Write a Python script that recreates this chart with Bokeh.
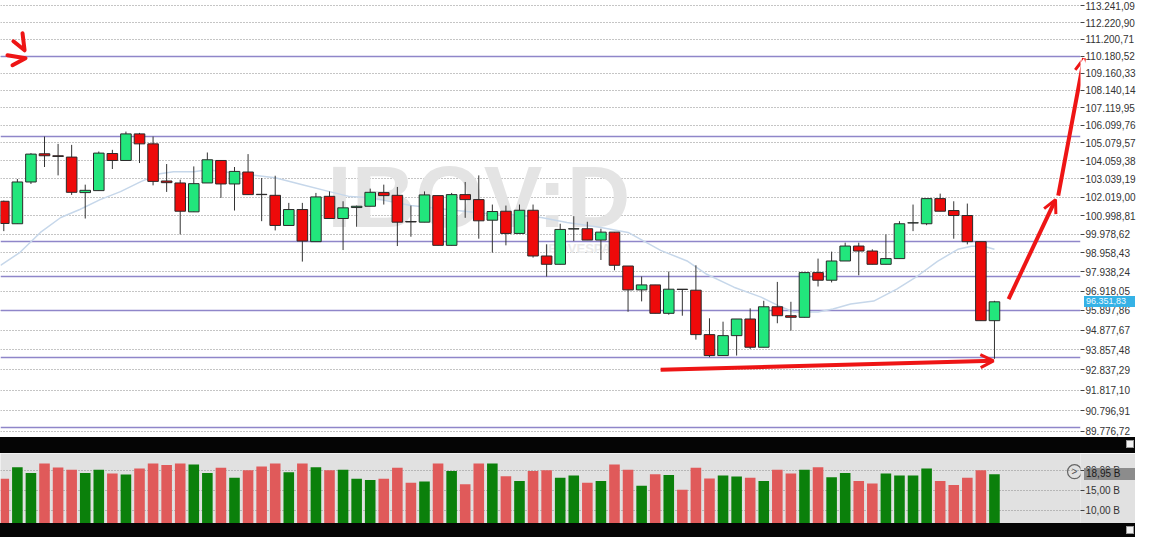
import math
from bokeh.plotting import figure
from bokeh.models import Range1d, FixedTicker, Arrow, OpenHead, Label, Div, ColumnDataSource
from bokeh.layouts import column
from bokeh.core.properties import value
from bokeh.embed import file_html
from bokeh.resources import INLINE

# ---------------- data ----------------
PRICE_TICK_LABELS = ["89.776,72", "90.796,91", "91.817,10", "92.837,29", "93.857,48", "94.877,67",
                     "95.897,86", "96.918,05", "97.938,24", "98.958,43", "99.978,62", "100.998,81",
                     "102.019,00", "103.039,19", "104.059,38", "105.079,57", "106.099,76", "107.119,95",
                     "108.140,14", "109.160,33", "110.180,52", "111.200,71", "112.220,90", "113.241,09"]
VOLUME_TICK_LABELS = ["10,00 B", "15,00 B", "20,00 B"]

OPEN = [101788, 100546, 102866, 104462, 104349, 104274, 102271, 102382, 104478, 104081,
        105603, 105029, 102922, 102811, 101203, 102811, 104081, 102755, 103428, 102175,
        102120, 100453, 101330, 99568, 102064, 100835, 101440, 101512, 102271, 102120,
        100671, 100633, 102104, 99368, 102159, 101881, 100742, 101237, 100017, 101291,
        98792, 98346, 100262, 100273, 99655, 100088, 98254, 96981, 97245, 95748,
        97018, 96965, 94641, 93565, 94589, 95452, 93991, 96091, 95623, 95540,
        97901, 97494, 98523, 99331, 99061, 98346, 98652, 100590, 100546, 101936,
        101275, 100999, 99568, 95364]
HIGH = [101826, 103034, 104501, 105448, 105029, 104972, 102716, 104592, 104688, 105735,
        105660, 105448, 103879, 102995, 103744, 104535, 104081, 103710, 104444, 103088,
        103218, 101699, 101699, 102254, 102337, 101788, 101551, 102493, 102716, 102588,
        101551, 102337, 102104, 102254, 102866, 103236, 101606, 101550, 101606, 101606,
        99422, 100546, 100961, 100655, 100273, 100088, 98254, 97690, 97245, 97954,
        97018, 98292, 95489, 95312, 95452, 96008, 96405, 97404, 96353, 97901,
        98652, 99028, 99514, 99514, 99152, 99962, 100688, 101606, 101936, 102215,
        101788, 101661, 99568, 96405]
LOW = [100142, 100546, 102755, 103710, 103236, 102142, 100835, 102382, 103597, 104081,
       103935, 102677, 102310, 99962, 101203, 102811, 101975, 101275, 102159, 100688,
       100180, 100453, 98491, 99568, 100835, 99115, 100382, 101512, 101606, 99331,
       99838, 100633, 99368, 99368, 100873, 99730, 98974, 99368, 100017, 98706,
       97690, 98346, 99601, 99655, 98577, 98024, 95831, 96374, 95748, 95675,
       95623, 94384, 93484, 93565, 93565, 93904, 93991, 95230, 94847, 95540,
       97161, 97377, 98523, 97758, 98346, 98346, 98652, 100142, 100469, 101237,
       99730, 99422, 95364, 93398]
CLOSE = [100562, 102866, 104444, 104349, 104308, 102287, 102399, 104501, 104081, 105603,
         105029, 102900, 102828, 101237, 102772, 104121, 102755, 103461, 102159, 102159,
         100453, 101330, 99601, 102031, 100835, 101424, 101512, 102287, 102104, 100633,
         100644, 102142, 99368, 102159, 101881, 100709, 101220, 100017, 101291, 98792,
         98346, 100235, 100273, 99655, 100088, 98292, 96981, 97245, 95748, 97018,
         97002, 94641, 93565, 94589, 95452, 93991, 96091, 95623, 95540, 97901,
         97494, 98523, 99331, 99061, 98346, 98652, 100546, 100600, 101936, 101237,
         100999, 99568, 95364, 96351.83]
VOLUME_B = [17.86, 20.71, 19.29, 21.6, 20.64, 20.07, 19.29, 20.07, 19.12, 18.88,
            20.40, 21.6, 21.26, 21.6, 21.36, 19.29, 20.55, 18.10, 19.93, 20.88,
            21.6, 19.45, 21.6, 20.71, 19.93, 20.07, 17.86, 17.55, 17.86, 20.55,
            16.90, 17.21, 21.6, 19.76, 16.50, 21.6, 21.6, 18.5, 17.31, 19.76,
            19.93, 18.10, 18.64, 16.90, 17.31, 21.36, 20.07, 16.12, 18.98, 18.81,
            15.17, 20.55, 17.93, 18.64, 18.40, 18.10, 17.31, 20.07, 19.12, 20.07,
            20.71, 18.26, 19.29, 17.31, 16.67, 19.12, 18.64, 18.64, 20.40, 17.31,
            16.36, 18.10, 19.93, 18.95]
MA_IDX = [-0.24, 1.2, 2.7, 4.2, 5.6, 7.1, 8.6, 10.1, 11.5, 12.5, 14, 15, 17.4, 20, 22, 24,
          25.5, 27, 30, 33.4, 35.5, 37.3, 39.6, 41.5, 44, 46, 48.4, 50.4, 51.8, 53.8, 55.8,
          57, 58.2, 60, 61.1, 62.4, 64.1, 65.8, 67.3, 68.8, 70.3, 71.3, 72.2, 73]
MA_VAL = [98292, 98990, 100071, 100890, 101330, 101881, 102326, 102883, 103332, 103445,
          103445, 103557, 103332, 103106, 102716, 102326, 102048, 101991, 101551, 101275,
          101110, 101055, 100890, 100617, 100344, 100071, 99098, 98507, 97811, 97124,
          96599, 96180, 95815, 95815, 95971, 96233, 96390, 97018, 97705, 98507, 99152,
          99314, 99314, 99152]
SUPPORT_LEVELS = [110180.52, 105448, 99568, 97690, 95882, 93474, 89960]
LAST_PRICE_LABEL = "96.351,83"
LAST_VOLUME_LABEL = "18,95 B"

# hand-drawn annotations (candle index, price)
ARROW_UP_1 = [(74.04, 96494), (77.5, 101881)]
ARROW_UP_2 = [(77.7, 102103), (79.6, 110056)]
ARROW_FLAT = [(48.4, 92840), (72.93, 93297)]
CHEVRON_XS = [[0.71, 1.53, 1.38], [0.27, 1.6, 0.64]]
CHEVRON_YS = [[111077, 110535, 111561], [110235, 110056, 109638]]


def br(s):
    return float(s.replace(" B", "").replace(".", "").replace(",", "."))


PRICE_TICKS = [br(s) for s in PRICE_TICK_LABELS]
VOLUME_TICKS = [br(s) for s in VOLUME_TICK_LABELS]

RED = "#ee0a0a"
GREEN = "#22e67c"
ARROW_RED = "#ee1515"
PURPLE = "#8f86c9"
FONT = "Liberation Sans"

idx = list(range(len(OPEN)))
up = [c >= o for o, c in zip(OPEN, CLOSE)]
src = ColumnDataSource(dict(
    x=idx, high=HIGH, low=LOW,
    top=[max(o, c) for o, c in zip(OPEN, CLOSE)],
    bottom=[min(o, c) for o, c in zip(OPEN, CLOSE)],
    color=[GREEN if u else RED for u in up],
    vol=VOLUME_B,
    vcolor=["#0b800b" if u else "#e05a5a" for u in up],
))

FW = 1080
RB = 55
MAIN_H = 437
VOL_H = 70
BAND1_H = 16
BAND2_H = 14
PRICE_RANGE = (89472, 113580)
VOL_RANGE = (6.9, 24.05)
x_range = Range1d(-0.243, 79.34)


def style_axis(ax):
    ax.axis_line_color = None
    ax.minor_tick_line_color = None
    ax.major_tick_in = 0
    ax.major_tick_out = 4
    ax.major_tick_line_color = "#444"
    ax.major_label_standoff = 1
    ax.major_label_text_font = FONT
    ax.major_label_text_font_size = "10px"
    ax.major_label_text_color = "#333"


# ---------------- price panel ----------------
p = figure(frame_width=FW, frame_height=MAIN_H, x_range=x_range,
           y_range=Range1d(*PRICE_RANGE), y_axis_type="log", y_axis_location="right",
           x_axis_location=None, output_backend="svg", toolbar_location=None,
           min_border_left=0, min_border_top=0, min_border_bottom=0, min_border_right=RB,
           background_fill_color="white", border_fill_color="white", outline_line_color=None)

ticker = FixedTicker(ticks=PRICE_TICKS)
p.yaxis.ticker = ticker
p.yaxis.major_label_overrides = {t: s for t, s in zip(PRICE_TICKS, PRICE_TICK_LABELS)}
style_axis(p.yaxis[0])
p.xgrid.visible = False
p.ygrid.ticker = ticker
p.ygrid.grid_line_color = "#8a8a8a"
p.ygrid.grid_line_dash = "1 2"
p.ygrid.grid_line_width = 1

# watermark
p.add_layout(Label(x=35, y=102047, text="IBOV:D", text_font="Liberation Sans",
                   text_font_style="bold", text_font_size="88px", text_color="#e4e4e4",
                   text_align="center", text_baseline="middle", level="underlay"))
p.add_layout(Label(x=42.3, y=99205, text="IBOVESPA", text_font="Liberation Sans",
                   text_font_style="bold", text_font_size="13px", text_color="#eaeaea",
                   text_align="center", text_baseline="middle", level="underlay"))

p.hspan(y=SUPPORT_LEVELS, line_color=PURPLE, line_width=1.6)
p.line(MA_IDX, MA_VAL, line_color="#c6d7ea", line_width=1.5)
p.segment(x0="x", y0="low", x1="x", y1="high", source=src, line_color="#333", line_width=1)
p.vbar(x="x", width=0.78, top="top", bottom="bottom", source=src,
       fill_color="color", line_color="#2a2a2a", line_width=1)

# hand drawn red marks
p.multi_line(CHEVRON_XS, CHEVRON_YS, line_color=ARROW_RED, line_width=4,
             line_cap="round", line_join="round")
for (x0, y0), (x1, y1) in (ARROW_UP_1, ARROW_UP_2, ARROW_FLAT):
    p.add_layout(Arrow(x_start=x0, y_start=y0, x_end=x1, y_end=y1,
                       line_color=ARROW_RED, line_width=4,
                       end=OpenHead(size=13, line_color=ARROW_RED, line_width=3)))

# ---------------- volume panel ----------------
pv = figure(frame_width=FW, frame_height=VOL_H, x_range=x_range, y_range=Range1d(*VOL_RANGE),
            y_axis_location="right", x_axis_location=None, output_backend="svg",
            toolbar_location=None, min_border_left=0, min_border_top=0, min_border_bottom=0,
            min_border_right=RB, background_fill_color="#e1e1e1", border_fill_color="#e1e1e1",
            outline_line_color=None)
vt = FixedTicker(ticks=VOLUME_TICKS)
pv.yaxis.ticker = vt
pv.yaxis.major_label_overrides = {t: s for t, s in zip(VOLUME_TICKS, VOLUME_TICK_LABELS)}
style_axis(pv.yaxis[0])
pv.xgrid.visible = False
pv.ygrid.ticker = vt
pv.ygrid.grid_line_color = "#8a8a8a"
pv.ygrid.grid_line_dash = "1 2"
pv.vbar(x="x", width=0.78, top="vol", bottom=0, source=src, fill_color="vcolor", line_color=None)
pv.scatter([78.9], [19.6], marker="circle", size=14, fill_color=None, line_color="#666", line_width=1.2)
pv.text([78.9], [19.6], text=[">"], text_align="center", text_baseline="middle",
        text_font_size="10px", text_color="#555", text_font=value("Liberation Sans"))

W = FW + RB

# last-value markers on the axes (positions follow the panels' own scales)
lp, hp = math.log(PRICE_RANGE[0]), math.log(PRICE_RANGE[1])
price_px = (hp - math.log(CLOSE[-1])) / (hp - lp) * MAIN_H
vol_px = (VOL_RANGE[1] - VOLUME_B[-1]) / (VOL_RANGE[1] - VOL_RANGE[0]) * VOL_H

price_tag = (f'<div style="position:absolute;left:{FW + 4}px;top:{price_px - MAIN_H - 5.5:.1f}px;'
             f'width:{RB - 4}px;height:11px;line-height:11px;background:#35b2e6;color:#eef8ff;'
             f'font-family:\'Liberation Sans\';font-size:9px;padding-left:2px;box-sizing:border-box;'
             f'white-space:nowrap">{LAST_PRICE_LABEL}</div>')
vol_tag = (f'<div style="position:absolute;left:{FW + 4}px;top:{BAND1_H + vol_px - 6:.1f}px;'
           f'width:{RB - 4}px;height:12px;line-height:12px;background:#8c8c8c;color:#1a1a1a;'
           f'font-family:\'Liberation Sans\';font-size:10px;padding-left:2px;box-sizing:border-box;'
           f'white-space:nowrap">{LAST_VOLUME_LABEL}</div>')


def band(h, top, extra=""):
    html = (f'<div style="position:relative;width:{W}px;height:{h}px">'
            f'<div style="position:absolute;left:1126px;top:{top}px;width:8px;height:8px;'
            f'background:#f2f2f2;border:1px solid #999"></div>{extra}</div>')
    return Div(text=html, width=W, height=h, margin=0,
               styles={"background-color": "#050505", "overflow": "visible", "z-index": "10"})


layout = column(p, band(BAND1_H, 3, price_tag + vol_tag), pv, band(BAND2_H, 3), spacing=0)
open("out.html", "w").write(file_html(layout, INLINE))
